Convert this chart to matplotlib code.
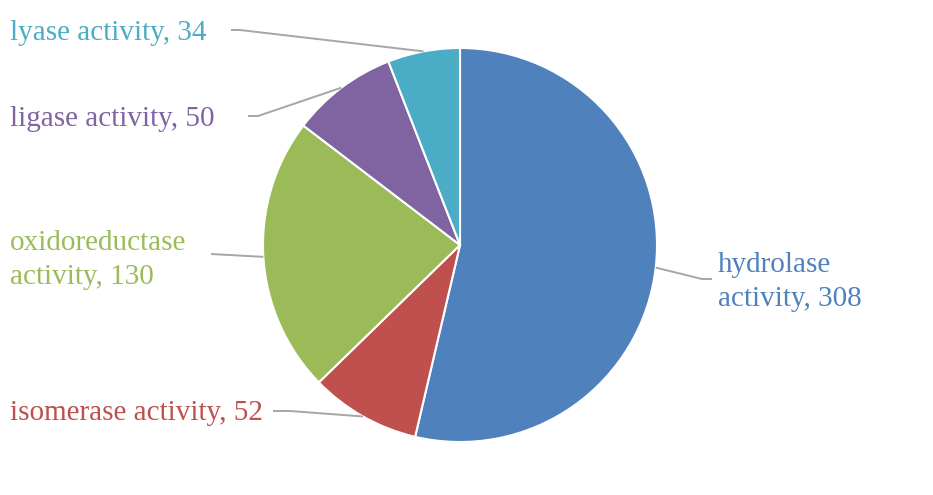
import numpy as np
import matplotlib.pyplot as plt

# Datos del gráfico
categories = ['hydrolase activity', 'isomerase activity', 'oxidoreductase activity',
              'ligase activity', 'lyase activity']
values = [308, 52, 130, 50, 34]
labels = ['hydrolase\nactivity, 308', 'isomerase activity, 52', 'oxidoreductase\nactivity, 130',
          'ligase activity, 50', 'lyase activity, 34']
colors = ['#4F81BD', '#C0504D', '#9BBB59', '#8064A2', '#4BACC6']

W, H = 933, 495
center = (460, 250)
radius = 197

# Posición de las etiquetas y de las líneas guía (píxeles, eje y hacia arriba)
label_pos = [(718, 213), (10, 82), (10, 235), (10, 376), (10, 462)]
line_start = [712, 273, 211, 248, 231]
line_elbow = [702, 290, 211, 258, 240]
line_y = [216, 84, 241, 379, 465]

fig = plt.figure(figsize=(W / 100, H / 100), dpi=100)
ax = fig.add_axes([0, 0, 1, 1])

wedges, _ = ax.pie(values, colors=colors, startangle=90, counterclock=False,
                   center=center, radius=radius,
                   wedgeprops=dict(edgecolor='white', linewidth=1.5))
ax.set_xlim(0, W)
ax.set_ylim(0, H)
ax.axis('off')

for i, w in enumerate(wedges):
    ang = np.deg2rad((w.theta1 + w.theta2) / 2)
    px = center[0] + radius * np.cos(ang)
    py = center[1] + radius * np.sin(ang)
    # línea guía: etiqueta -> codo -> borde de la porción
    ax.plot([line_start[i], line_elbow[i], px], [line_y[i], line_y[i], py],
            color='#A6A6A6', lw=1.4, solid_capstyle='butt')
    ax.text(label_pos[i][0], label_pos[i][1], labels[i], color=colors[i], fontsize=21,
            family='Liberation Serif', ha='left', va='center', linespacing=1.4)

fig.savefig('out.png', dpi=100)
